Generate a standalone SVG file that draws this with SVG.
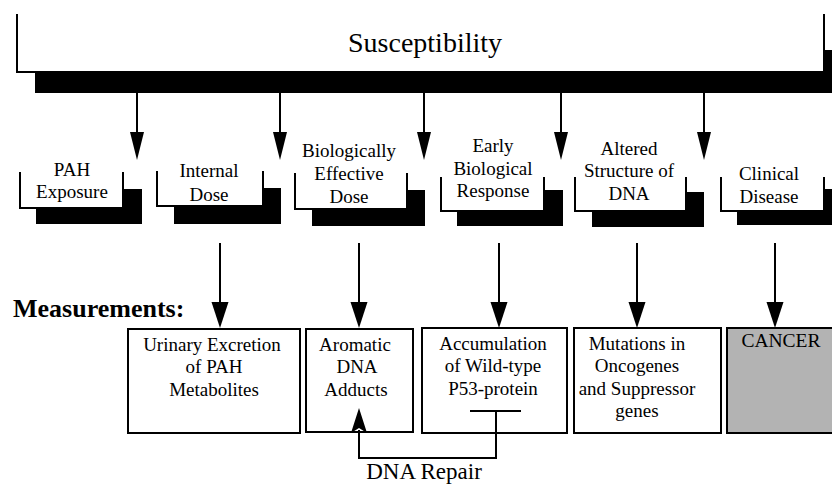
<svg xmlns="http://www.w3.org/2000/svg" width="832" height="484" viewBox="0 0 832 484">
<defs>
<style>
text{font-family:"Liberation Serif","Times New Roman",serif;fill:#000;text-anchor:middle}
.t{font-size:19px}
.ln{fill:none;stroke:#000;stroke-width:2}
.sh{fill:#000}
.wb{fill:#fff}
.bx{fill:#fff;stroke:#000;stroke-width:2}
.ah{fill:#000}
</style>
</defs>
<rect width="832" height="484" fill="#fff"/>
<g id="susceptibility">
<rect class="sh" x="35" y="50" width="800" height="43"/>
<rect class="wb" x="17" y="0" width="807" height="72"/>
<path class="ln" d="M17,14 V72 H824 V14"/>
<text x="425" y="52" style="font-size:28px">Susceptibility</text>
</g>
<g id="pah-exposure">
<rect class="sh" x="36" y="189" width="106" height="35"/>
<rect class="wb" x="20" y="172" width="103" height="36"/>
<path class="ln" d="M20,172 V208 H123 V172"/>
<text class="t" x="72" y="176">PAH</text>
<text class="t" x="72" y="198">Exposure</text>
</g>
<g id="internal-dose">
<rect class="sh" x="174" y="188" width="107" height="36"/>
<rect class="wb" x="157" y="171" width="106" height="35"/>
<path class="ln" d="M157,171 V206 H263 V171"/>
<text class="t" x="209" y="177">Internal</text>
<text class="t" x="209" y="201">Dose</text>
</g>
<g id="bio-effective-dose">
<rect class="sh" x="312" y="190" width="113" height="36"/>
<rect class="wb" x="295" y="173" width="112" height="36"/>
<path class="ln" d="M295,173 V209 H407 V173"/>
<text class="t" x="349" y="157">Biologically</text>
<text class="t" x="349" y="180">Effective</text>
<text class="t" x="349" y="203">Dose</text>
</g>
<g id="early-response">
<rect class="sh" x="457" y="190" width="106" height="36"/>
<rect class="wb" x="441" y="177" width="103" height="34"/>
<path class="ln" d="M441,177 V211 H544 V177"/>
<text class="t" x="493" y="152">Early</text>
<text class="t" x="493" y="175">Biological</text>
<text class="t" x="493" y="197">Response</text>
</g>
<g id="altered-dna">
<rect class="sh" x="592" y="192" width="112" height="35"/>
<rect class="wb" x="575" y="177" width="111" height="34"/>
<path class="ln" d="M575,177 V211 H686 V177"/>
<text class="t" x="629" y="155">Altered</text>
<text class="t" x="629" y="177">Structure of</text>
<text class="t" x="629" y="200">DNA</text>
</g>
<g id="clinical-disease">
<rect class="sh" x="737" y="189" width="100" height="36"/>
<rect class="wb" x="721" y="177" width="103" height="34"/>
<path class="ln" d="M721,177 V211 H824 V177"/>
<text class="t" x="769" y="180">Clinical</text>
<text class="t" x="769" y="203">Disease</text>
</g>
<g id="measurements-label">
<text x="13" y="317" style="font-size:26px;font-weight:bold;text-anchor:start">Measurements:</text>
</g>
<g id="urinary">
<rect class="bx" x="128" y="329" width="172" height="104"/>
<text class="t" x="212" y="351">Urinary Excretion</text>
<text class="t" x="214" y="373">of PAH</text>
<text class="t" x="214" y="396">Metabolites</text>
</g>
<g id="adducts">
<rect class="bx" x="306" y="329" width="107" height="103"/>
<text class="t" x="355" y="351">Aromatic</text>
<text class="t" x="357" y="373">DNA</text>
<text class="t" x="356" y="396">Adducts</text>
</g>
<g id="p53">
<rect class="bx" x="422" y="328" width="145" height="105"/>
<text class="t" x="493" y="350">Accumulation</text>
<text class="t" x="493" y="372">of Wild-type</text>
<text class="t" x="493" y="395">P53-protein</text>
</g>
<g id="mutations">
<rect class="bx" x="574" y="328" width="147" height="105"/>
<text class="t" x="637" y="350">Mutations in</text>
<text class="t" x="637" y="372">Oncogenes</text>
<text class="t" x="637" y="395">and Suppressor</text>
<text class="t" x="637" y="417">genes</text>
</g>
<g id="cancer">
<rect x="727" y="328" width="110" height="105" fill="#b3b3b3" stroke="#000" stroke-width="2"/>
<text x="781" y="347" style="font-size:19.5px">CANCER</text>
</g>
<g id="dna-repair-label">
<text x="424" y="479" style="font-size:23px">DNA Repair</text>
</g>
<g id="connectors">
<g class="ln">
<path d="M137,93 V134"/><path d="M280,93 V134"/><path d="M424,93 V134"/><path d="M561,93 V134"/><path d="M704,93 V134"/>
<path d="M220,243 V304"/><path d="M359,243 V304"/><path d="M499,243 V304"/><path d="M637,243 V304"/><path d="M775,243 V304"/>
<path d="M470,411 H521 M496,411 V458 H359 V430"/>
</g>
<g class="ah">
<polygon points="130,132 144,132 137,160"/>
<polygon points="273,132 287,132 280,160"/>
<polygon points="417,132 431,132 424,160"/>
<polygon points="554,132 568,132 561,160"/>
<polygon points="697,132 711,132 704,160"/>
<polygon points="211.5,302 228.5,302 220,328"/>
<polygon points="350.5,302 367.5,302 359,328"/>
<polygon points="490.5,302 507.5,302 499,328"/>
<polygon points="628.5,302 645.5,302 637,328"/>
<polygon points="766.5,302 783.5,302 775,328"/>
<polygon points="351,433 359,408 367,433 359,428"/>
</g>
</g>
</svg>
